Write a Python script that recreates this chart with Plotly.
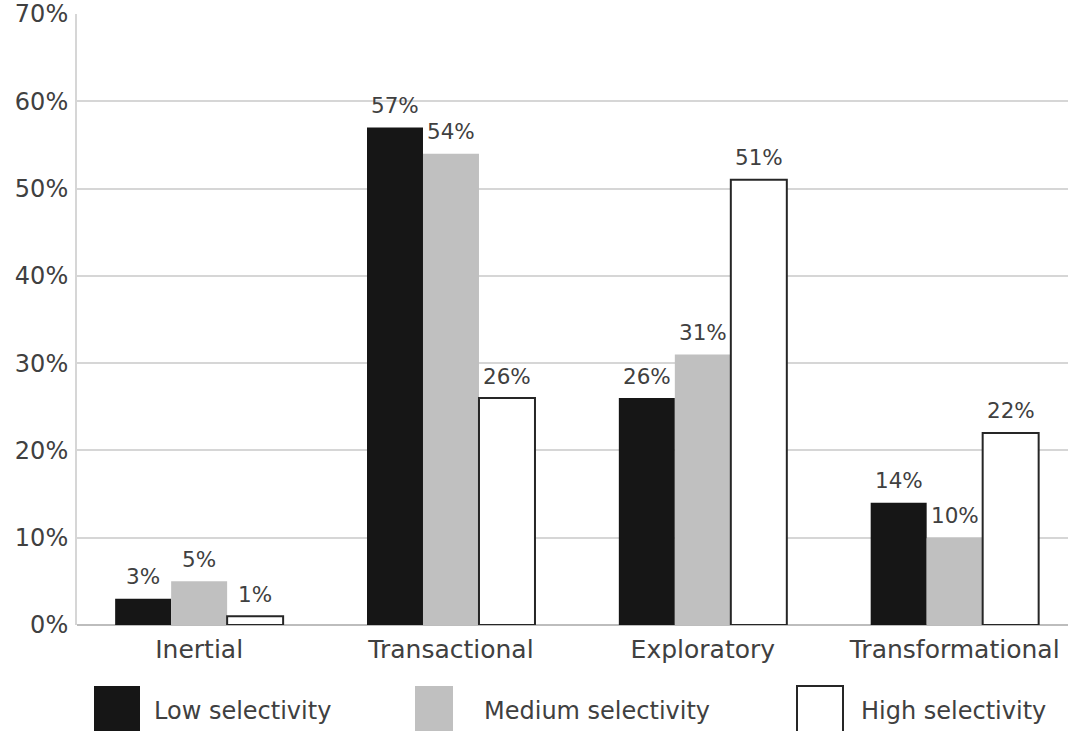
import plotly.graph_objects as go

categories = ["Inertial", "Transactional", "Exploratory", "Transformational"]
series_names = ["Low selectivity", "Medium selectivity", "High selectivity"]
low_values = [3, 57, 26, 14]
medium_values = [5, 54, 31, 10]
high_values = [1, 26, 51, 22]
y_ticks = [0, 10, 20, 30, 40, 50, 60, 70]

W, H = 1068, 731
L, R, T, B = 77, 0, 14, 106
FONT = "DejaVu Sans, Arial, sans-serif"
TXT = "#404040"

fills = ["#161616", "#c0c0c0", "#ffffff"]
outlines = ["#161616", "#c0c0c0", "#262626"]
outline_w = [0, 0, 2]
bar_px = 56  # width of one bar in pixels (for value-label offsets)

fig = go.Figure()
all_values = [low_values, medium_values, high_values]
for name, vals, fc, lc, lw in zip(series_names, all_values, fills, outlines, outline_w):
    fig.add_trace(go.Bar(
        name=name, x=categories, y=vals,
        marker=dict(color=fc, line=dict(color=lc, width=lw)),
        showlegend=False,
    ))

# value labels above each bar
for k, vals in enumerate(all_values):
    for cat, v in zip(categories, vals):
        fig.add_annotation(x=cat, y=v, text=f"{v}%", showarrow=False,
                           xshift=(k - 1) * bar_px, yshift=22, yanchor="middle",
                           font=dict(family=FONT, size=21.5, color=TXT))

# legend keys drawn as large swatches below the axis
plot_w = W - L - R
plot_h = H - T - B
def px_x(p):
    return (p - L) / plot_w
def px_y(p):
    return (H - B - p) / plot_h

legend_pos = [(94, 140, 152), (415, 453, 482), (797, 843, 859)]
for (x0, x1, tx), name, fc, lc, lw in zip(legend_pos, series_names, fills, outlines, outline_w):
    fig.add_shape(type="rect", xref="paper", yref="paper",
                  x0=px_x(x0), x1=px_x(x1), y0=px_y(733), y1=px_y(686),
                  fillcolor=fc, line=dict(color=lc if lw else fc, width=lw if lw else 0))
    fig.add_annotation(xref="paper", yref="paper", x=px_x(tx), y=px_y(711),
                       text=name, showarrow=False, xanchor="left", yanchor="middle",
                       font=dict(family=FONT, size=24, color=TXT))

fig.update_layout(
    width=W, height=H,
    margin=dict(l=L, r=R, t=T, b=B),
    paper_bgcolor="white", plot_bgcolor="white",
    barmode="group", bargap=0.333, bargroupgap=0,
    font=dict(family=FONT, color=TXT),
)
fig.update_xaxes(range=[-0.485, 3.45], showgrid=False, showline=False, ticks="",
                 ticklabelstandoff=7,
                 tickfont=dict(family=FONT, size=25, color=TXT), zeroline=False)
fig.update_yaxes(range=[0, 70], tickvals=y_ticks, ticktext=[f"{v}%" for v in y_ticks],
                 showgrid=True, gridcolor="#d6d6d6", gridwidth=2,
                 showline=True, linecolor="#d6d6d6", linewidth=2,
                 zeroline=True, zerolinecolor="#bdbdbd", zerolinewidth=2,
                 ticks="", ticklen=0, ticklabelstandoff=2,
                 tickfont=dict(family=FONT, size=24, color=TXT))

fig.write_html("out.html")
